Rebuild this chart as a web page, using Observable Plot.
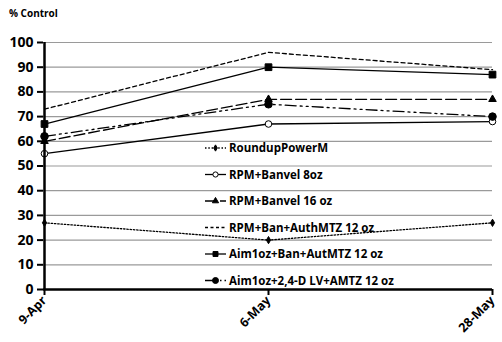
<!DOCTYPE html>
<html>
<head>
<meta charset="utf-8">
<script src="https://cdn.jsdelivr.net/npm/d3@7"></script>
<script src="https://cdn.jsdelivr.net/npm/@observablehq/plot@0.6"></script>
<style>
  html, body { margin: 0; padding: 0; background: #fff; }
  #chart svg { display: block; }
</style>
</head>
<body>
<div id="chart"></div>
<script>
const dates = ["9-Apr", "6-May", "28-May"];
const seriesNames = [
  "RoundupPowerM",
  "RPM+Banvel 8oz",
  "RPM+Banvel 16 oz",
  "RPM+Ban+AuthMTZ 12 oz",
  "Aim1oz+Ban+AutMTZ 12 oz",
  "Aim1oz+2,4-D LV+AMTZ 12 oz"
];
const roundup = [27, 20, 27];
const rpmBanvel8 = [55, 67, 68];
const rpmBanvel16 = [60, 77, 77];
const rpmBanAuth = [73, 96, 89];
const aimBanAut = [67, 90, 87];
const aim24d = [62, 75, 70];
const yTicks = [0, 10, 20, 30, 40, 50, 60, 70, 80, 90, 100];

const seriesValues = [roundup, rpmBanvel8, rpmBanvel16, rpmBanAuth, aimBanAut, aim24d];
const styles = [
  {dash: "1.5,1.8", legendDash: "1.5,1.8", symbol: "diamond", fill: "black", r: 2.2, lr: 1.9},
  {dash: null, legendDash: null, symbol: "circle", fill: "white", r: 3.3, lr: 2.6},
  {dash: "11,4", legendDash: "12,3", symbol: "triangle", fill: "black", r: 2.8, lr: 2.3},
  {dash: "4,3", legendDash: "3,2.5", symbol: null},
  {dash: null, legendDash: null, symbol: "square", fill: "black", r: 3.8, lr: 2.8},
  {dash: "11,4,2,4,2,4", legendDash: "12,3,1.5,3", symbol: "circle", fill: "black", r: 3.8, lr: 3}
];

const rows = [];
seriesNames.forEach((name, i) => {
  dates.forEach((d, j) => rows.push({series: name, idx: i, date: d, value: seriesValues[i][j]}));
});

const font = "'Open Sans', sans-serif";
const marks = [
  Plot.gridY(yTicks, {stroke: "#9a9a9a", strokeOpacity: 1, strokeWidth: 1.2}),
];
seriesNames.forEach((name, i) => {
  const data = rows.filter(r => r.idx === i);
  const s = styles[i];
  marks.push(Plot.line(data, {x: "date", y: "value", stroke: "black", strokeWidth: 1.3, strokeDasharray: s.dash || undefined}));
});
seriesNames.forEach((name, i) => {
  const data = rows.filter(r => r.idx === i);
  const s = styles[i];
  if (s.symbol) marks.push(Plot.dot(data, {x: "date", y: "value", symbol: () => s.symbol, r: s.r, fill: s.fill, stroke: "black", strokeWidth: 1}));
});
marks.push(Plot.ruleX([dates[0]], {stroke: "black", strokeWidth: 2.5}));
marks.push(Plot.ruleY([0], {stroke: "black", strokeWidth: 2.5}));
marks.push(Plot.axisY(yTicks, {tickSize: 6, tickPadding: 4, fontSize: 14, fontWeight: "bold", stroke: "black", strokeWidth: 2}));
marks.push(Plot.axisX(dates, {tickSize: 6, tickPadding: 3, tickRotate: -45, fontSize: 12.5, fontWeight: "bold", stroke: "black", strokeWidth: 2}));

const chart = Plot.plot({
  width: 502,
  height: 342,
  marginTop: 42,
  marginBottom: 53,
  marginLeft: 43,
  marginRight: 10,
  style: {fontFamily: font, color: "black", background: "white"},
  x: {type: "point", domain: dates, padding: 0, label: null},
  y: {domain: [0, 100], label: null},
  symbol: {type: "identity"},
  marks
});
document.getElementById("chart").appendChild(chart);

// title and legend
const svg = d3.select(chart);
svg.append("text").attr("x", 9).attr("y", 17).attr("text-anchor", "start").attr("font-family", font)
  .attr("font-weight", "bold").attr("font-size", 10).attr("fill", "black").text("% Control");

const legend = svg.append("g").attr("text-anchor", "start");
const symMap = {diamond: d3.symbolDiamond, circle: d3.symbolCircle, triangle: d3.symbolTriangle, square: d3.symbolSquare};
seriesNames.forEach((name, i) => {
  const s = styles[i];
  const y = 148 + i * 26.5;
  const g = legend.append("g");
  g.append("line").attr("x1", 205).attr("x2", 226).attr("y1", y).attr("y2", y)
    .attr("stroke", "black").attr("stroke-width", 1.3).attr("fill", "none")
    .attr("stroke-dasharray", s.legendDash);
  if (s.symbol) {
    const area = Math.PI * s.lr * s.lr;
    g.append("path").attr("d", d3.symbol(symMap[s.symbol], area)()).attr("transform", `translate(215.5,${y})`)
      .attr("fill", s.fill).attr("stroke", "black").attr("stroke-width", 1);
  }
  g.append("text").attr("x", 229).attr("y", y).attr("dy", "0.35em").attr("text-anchor", "start").attr("font-family", font)
    .attr("font-weight", "bold").attr("font-size", 11.5).attr("fill", "black").text(name);
});
</script>
</body>
</html>
